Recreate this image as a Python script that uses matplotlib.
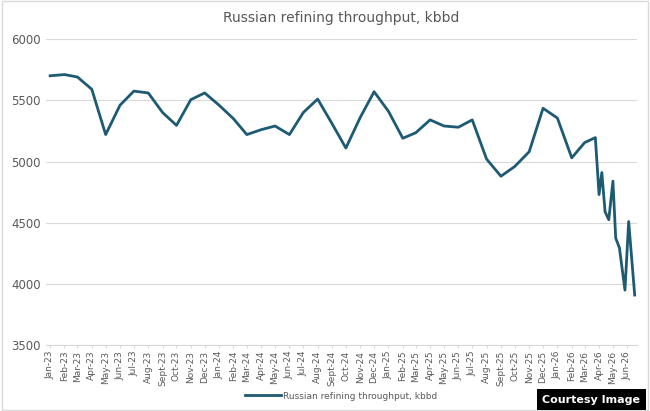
#!/usr/bin/env python3
"""Russian refining throughput line chart."""

import datetime as dt

import matplotlib.pyplot as plt

MONTHLY = [5700, 5710, 5690, 5590, 5220, 5460, 5575, 5560, 5400, 5295, 5505, 5560,
           5460, 5350, 5220, 5260, 5290, 5220, 5400, 5510, 5310, 5110, 5360, 5570,
           5410, 5190, 5235, 5340, 5290, 5280, 5340, 5020, 4880, 4960, 5080, 5435,
           5355, 5030, 5155]
LATE_DATES = ["2026-03-24", "2026-04-01", "2026-04-07", "2026-04-14", "2026-04-22",
              "2026-05-01", "2026-05-07", "2026-05-15", "2026-05-27", "2026-06-04",
              "2026-06-17"]
LATE_VALUES = [5195, 4730, 4910, 4590, 4525, 4840, 4375, 4295, 3950, 4510, 3910]

MONTH_NAMES = ["Jan", "Feb", "Mar", "Apr", "May", "Jun", "Jul", "Aug", "Sept",
               "Oct", "Nov", "Dec"]


def main():
    months = [dt.date(2023 + i // 12, i % 12 + 1, 1) for i in range(len(MONTHLY))]
    dates = months + [dt.date.fromisoformat(d) for d in LATE_DATES]
    values = MONTHLY + LATE_VALUES

    fig = plt.figure(figsize=(6.5, 4.11), dpi=100)
    ax = fig.add_axes([0.07, 0.16, 0.91, 0.745])
    ax.plot(dates, values, color="#1d5a73", linewidth=2.0)

    ticks = [dt.date(2023 + i // 12, i % 12 + 1, 1) for i in range(42)]
    ax.set_xticks(ticks)
    ax.set_xticklabels([f"{MONTH_NAMES[t.month - 1]}-{t.year % 100}" for t in ticks],
                       rotation=90, fontsize=6.5, color="#595959")
    ax.set_xlim(dt.date(2022, 12, 22), dt.date(2026, 6, 22))
    ax.set_ylim(3500, 6000)
    ax.set_yticks(range(3500, 6001, 500))
    ax.tick_params(axis="y", length=0, labelsize=8.5, colors="#595959")
    ax.tick_params(axis="x", length=2, color="#d9d9d9", pad=2)
    ax.grid(axis="y", color="#d9d9d9", linewidth=0.8)
    ax.set_axisbelow(True)
    for side in ["top", "right", "left"]:
        ax.spines[side].set_visible(False)
    ax.spines["bottom"].set_color("#d9d9d9")

    ax.set_title("Russian refining throughput, kbbd", fontsize=10, color="#595959", pad=12)
    ax.legend(["Russian refining throughput, kbbd"], loc="upper center",
              bbox_to_anchor=(0.5, -0.125), frameon=False, fontsize=6.5,
              labelcolor="#595959", handlelength=4, handletextpad=0.2)

    fig.text(0.985, 0.015, "Courtesy Image", ha="right", va="bottom", fontsize=8,
             color="white", fontweight="bold",
             bbox=dict(facecolor="black", edgecolor="none", pad=4))
    fig.patches.append(plt.Rectangle((0.003, 0.003), 0.994, 0.994, transform=fig.transFigure,
                                     fill=False, edgecolor="#d9d9d9", linewidth=1))
    fig.savefig("out.png", dpi=100)


if __name__ == "__main__":
    main()
